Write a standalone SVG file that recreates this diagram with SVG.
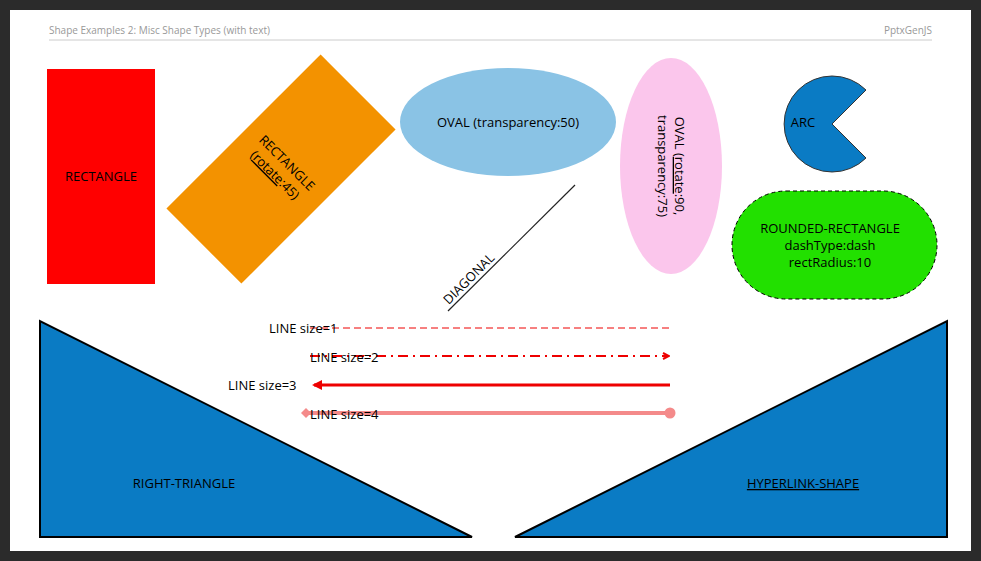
<svg xmlns="http://www.w3.org/2000/svg" width="981" height="561" viewBox="0 0 981 561">
<style>
text{font-family:"Open Sans","Liberation Sans",sans-serif;font-size:13px;fill:#000}
.lbl{font-family:"Liberation Sans",sans-serif}
.hdr{font-size:10px;fill:#999}
.tri{fill:#0a7bc4;stroke:#000;stroke-width:2}
</style>
<defs>
<marker id="ar" markerWidth="8" markerHeight="8" refX="6" refY="4" orient="auto" markerUnits="userSpaceOnUse"><path d="M1,1 L7,4 L1,7" fill="none" stroke="#e00" stroke-width="2"/></marker>
<marker id="tri3" markerWidth="12" markerHeight="10" refX="2" refY="5" orient="auto-start-reverse" markerUnits="userSpaceOnUse"><path d="M0,5 L10,0 L10,10 Z" fill="#e00" transform="rotate(180 5 5)"/></marker>
<marker id="dia" markerWidth="10" markerHeight="10" refX="5" refY="5" orient="auto" markerUnits="userSpaceOnUse"><path d="M5,0 L10,5 L5,10 L0,5 Z" fill="#f48a8a"/></marker>
<marker id="dot" markerWidth="12" markerHeight="12" refX="6" refY="6" markerUnits="userSpaceOnUse"><circle cx="6" cy="6" r="5.5" fill="#f48a8a"/></marker>
</defs>
<rect width="981" height="561" fill="#2b2b2b"/>
<rect x="10" y="10" width="961" height="541" fill="#fff"/>
<text class="hdr" x="49" y="34">Shape Examples 2: Misc Shape Types (with text)</text>
<text class="hdr" x="932" y="34" text-anchor="end">PptxGenJS</text>
<line x1="49" y1="40" x2="932" y2="40" stroke="#ccc" stroke-width="1"/>

<g id="rectangle"><rect x="47" y="69" width="108" height="215" fill="#f00"/><text x="101" y="181" text-anchor="middle">RECTANGLE</text></g>
<g id="rect-rotated" transform="rotate(45 281 169)"><rect x="228" y="60" width="106" height="218" fill="#f39200"/><text x="281" y="165" text-anchor="middle">RECTANGLE</text><text x="281" y="182" text-anchor="middle">(<tspan text-decoration="underline">rotate</tspan>:45)</text></g>
<g id="oval"><ellipse cx="508" cy="122" rx="108" ry="54" fill="#8ac3e5"/><text x="508" y="127" text-anchor="middle">OVAL (transparency:50)</text></g>
<g id="oval-rotated"><ellipse cx="671" cy="166" rx="51" ry="108" fill="#fbc6ec"/><g transform="rotate(90 671 166)"><text x="671" y="162" text-anchor="middle">OVAL (<tspan text-decoration="underline">rotate</tspan>:90,</text><text x="671" y="179" text-anchor="middle">transparency:75)</text></g></g>
<g id="arc"><path d="M832,124 L866,90 A48,48 0 1 0 866,158 Z" fill="#0a7bc4" stroke="#333" stroke-width="1"/><text x="803" y="127" text-anchor="middle">ARC</text></g>
<g id="rounded-rectangle"><rect x="732" y="191" width="205" height="108" rx="54" fill="#22e000" stroke="#000" stroke-dasharray="4 3"/><text x="830" y="233" text-anchor="middle">ROUNDED-RECTANGLE</text><text x="830" y="250" text-anchor="middle">dashType:dash</text><text x="830" y="267" text-anchor="middle">rectRadius:10</text></g>
<g id="diagonal"><line x1="575" y1="185" x2="448" y2="311" stroke="#222" stroke-width="1.2"/><text x="472" y="282" text-anchor="middle" transform="rotate(-45 472 282)">DIAGONAL</text></g>
<g id="right-triangle"><path class="tri" d="M40,321 L40,537 L472,537 Z"/><text x="184" y="488" text-anchor="middle">RIGHT-TRIANGLE</text></g>
<g id="hyperlink-shape"><path class="tri" d="M947,321 L947,537 L515,537 Z"/><text x="803" y="488" text-anchor="middle" text-decoration="underline">HYPERLINK-SHAPE</text></g>
<g id="connectors">
<line x1="310" y1="328" x2="670" y2="328" stroke="#e00" stroke-width="1" stroke-dasharray="7 4"/>
<line x1="310" y1="356" x2="668" y2="356" stroke="#e00" stroke-width="2" stroke-dasharray="10 5 2 5" marker-end="url(#ar)"/>
<line x1="670" y1="385" x2="314" y2="385" stroke="#e00" stroke-width="3"/>
<path d="M312,385 L322,380 L322,390 Z" fill="#e00"/>
<line x1="306" y1="413" x2="670" y2="413" stroke="#f48a8a" stroke-width="4" marker-start="url(#dia)" marker-end="url(#dot)"/>
</g>
<text x="269" y="333">LINE size=1</text>
<text x="310" y="362">LINE size=2</text>
<text x="228" y="390">LINE size=3</text>
<text x="310" y="419">LINE size=4</text>
</svg>
